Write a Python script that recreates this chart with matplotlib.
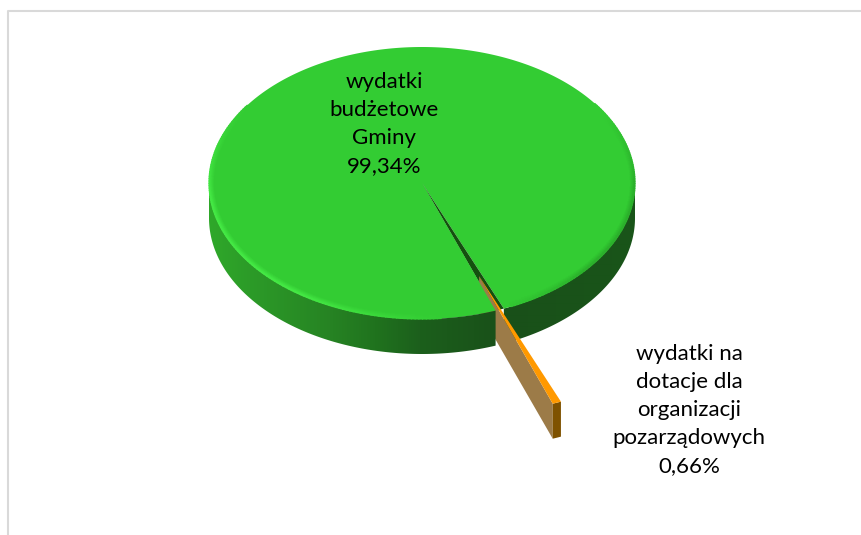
import numpy as np
import matplotlib
matplotlib.use("Agg")
import matplotlib.pyplot as plt
from matplotlib.collections import LineCollection
from matplotlib.patches import Polygon

# pie data
labels = ["wydatki\nbudżetowe\nGminy\n99,34%", "wydatki na\ndotacje dla\norganizacji\npozarządowych\n0,66%"]
values = [99.34, 0.66]
colors_top = ["#33CC33", "#FF9900"]

# 3d look of the pie, in pixels
cx, cy = 422, 183
rx, ry = 213, 136
depth = 35
mid_angle = 21.4
explode = 0.735

plt.rcParams['font.family'] = ['Lato', 'DejaVu Sans']

# shading of the pie side, left to right
shade_x = [209, 250, 333, 375, 420, 500, 640]
shade_r = [47, 44, 38, 32, 28, 25, 25]
shade_g = [168, 155, 130, 115, 95, 80, 85]
shade_b = [42, 40, 35, 30, 28, 25, 25]


def rim(theta, dx=0, dy=0, inset=0):
    # theta in degrees, 0 = bottom of the ellipse, going to the right
    t = np.radians(theta)
    return cx + dx + (rx - inset) * np.sin(t), cy + dy + (ry - inset) * np.cos(t)


def wedge(t1, t2, dx=0, dy=0):
    th = np.linspace(t1, t2, max(int(abs(t2 - t1)) * 2, 2) + 1)
    x, y = rim(th, dx, dy)
    return np.r_[cx + dx, x], np.r_[cy + dy, y]


def wall(ax, t1, t2, zorder):
    # side of the big slice, gradient image clipped to the band
    th = np.linspace(t1, t2, 200)
    x, y = rim(th)
    pts = np.c_[np.r_[x, x[::-1]], np.r_[y, y[::-1] + depth]]
    xs = np.arange(200, 650)
    grad = np.dstack([np.interp(xs, shade_x, shade_r),
                      np.interp(xs, shade_x, shade_g),
                      np.interp(xs, shade_x, shade_b)])[:] / 255
    im = ax.imshow(grad, extent=(200, 650, 400, 150), aspect='auto',
                   interpolation='bilinear', zorder=zorder)
    patch = Polygon(pts, closed=True, transform=ax.transData, fc='none', ec='none')
    ax.add_patch(patch)
    im.set_clip_path(patch)


def edge_light(ax, t1, t2, peak, col, zorder):
    # soft band just inside the rim of the top
    base = np.array(matplotlib.colors.to_rgb(colors_top[0]))
    col = np.array(matplotlib.colors.to_rgb(col))
    th = np.arange(t1, t2, 1.0)
    for inset in [4, 3, 2, 1, 0.3]:
        segs = []
        cols = []
        for a in th:
            xs, ys = rim(np.array([a, a + 1.3]), inset=inset)
            segs.append(np.c_[xs, ys])
            fade = np.clip(1.6 * (1 - abs(a - peak) / ((t2 - t1) / 2)), 0, 1)
            s = fade * (1 - inset / 5)
            cols.append(base + (col - base) * s)
        ax.add_collection(LineCollection(segs, colors=cols, linewidths=1.3,
                                         capstyle='butt', zorder=zorder))


fig = plt.figure(figsize=(8.61, 5.35), dpi=100)
ax = fig.add_axes([0, 0, 1, 1])

# chart frame
ax.plot([8, 8, 861], [535, 11, 11], color="#D9D9D9", lw=1.5, zorder=0)

# slice angles from the values
span = values[1] / sum(values) * 360
left = mid_angle - span / 2
right = mid_angle + span / 2
off_x = explode * rx * np.sin(np.radians(mid_angle))
off_y = explode * ry * np.cos(np.radians(mid_angle))

# right part of the big slice
wall(ax, right, 90, 1)
x, y = wedge(right, 360 + left)
ax.fill(x, y, color=colors_top[0], lw=0, zorder=2)
edge_light(ax, right + 2, 125, 70, "#2AAE2A", 2.5)

# dark inside seen through the gap
x, y = wedge(left, right)
ax.fill(x, y, color="#14500F", lw=0, zorder=3)

# small slice, pulled out
xa, ya = cx + off_x, cy + off_y
xl, yl = rim(left, off_x, off_y)
ax.fill([xa, xl, xl, xa], [ya, yl, yl + depth, ya + depth],
        color="#9C7B48", lw=0, zorder=4)
th = np.linspace(left, right, 5)
xr, yr = rim(th, off_x, off_y)
ax.fill(np.r_[xr, xr[::-1]], np.r_[yr, yr[::-1] + depth],
        color="#7F5200", lw=0, zorder=5)
x, y = wedge(left, right, off_x, off_y)
ax.fill(x, y, color=colors_top[1], lw=0, zorder=6)

# left part of the big slice goes over the small one
x, y = wedge(left - 70, left)
ax.fill(x, y, color=colors_top[0], lw=0, zorder=7)
wall(ax, -90, left, 7)

# light edge on the lower left of the top
edge_light(ax, -125, 5, -60, "#45EA45", 8)

# labels
ax.text(384, 124.5, labels[0], ha='center', va='center', fontsize=16,
        color="black", linespacing=1.5, zorder=9)
ax.text(689, 410, labels[1], ha='center', va='center', fontsize=16,
        color="black", linespacing=1.5, zorder=9)

ax.set_xlim(0, 861)
ax.set_ylim(535, 0)
ax.axis('off')

fig.savefig("out.png", dpi=100)
